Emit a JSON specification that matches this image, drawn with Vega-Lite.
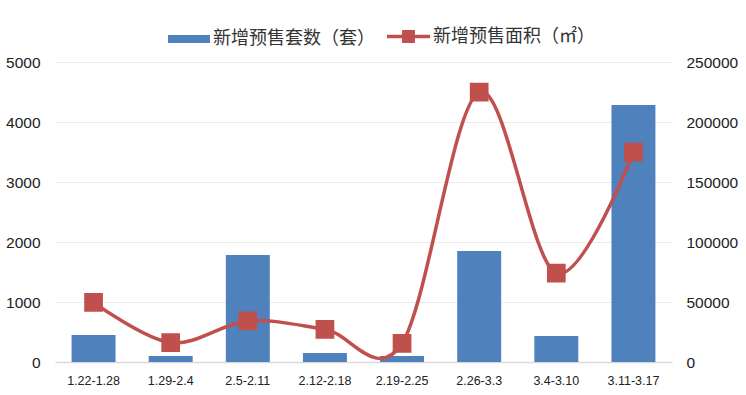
{
  "$schema": "https://vega.github.io/schema/vega-lite/v6.json",
  "width": 617,
  "height": 300,
  "autosize": "none",
  "padding": {"left": 55, "top": 62, "right": 74, "bottom": 33},
  "background": "#ffffff",
  "config": {"view": {"stroke": null}},
  "data": {"values": [
    {"week": "1.22-1.28", "units": 450, "area": 49700},
    {"week": "1.29-2.4", "units": 100, "area": 16100},
    {"week": "2.5-2.11", "units": 1783, "area": 34200},
    {"week": "2.12-2.18", "units": 150, "area": 27200},
    {"week": "2.19-2.25", "units": 100, "area": 15600},
    {"week": "2.26-3.3", "units": 1850, "area": 224800},
    {"week": "3.4-3.10", "units": 433, "area": 74000},
    {"week": "3.11-3.17", "units": 4283, "area": 174800}
  ]},
  "encoding": {
    "x": {
      "field": "week", "type": "ordinal", "sort": null,
      "scale": {"paddingInner": 0.43, "paddingOuter": 0.215},
      "axis": {"title": null, "labelAngle": 0, "ticks": false, "domainColor": "#d9d9d9", "domainWidth": 1.5,
        "labelFont": "Liberation Sans", "labelFontSize": 12.5, "labelColor": "#222", "labelPadding": 12, "grid": false}
    }
  },
  "layer": [
    {
      "mark": {"type": "bar", "color": "#4F81BD"},
      "encoding": {
        "y": {"field": "units", "type": "quantitative", "scale": {"domain": [0, 5000], "nice": false},
          "axis": {"title": null, "values": [0, 1000, 2000, 3000, 4000, 5000], "format": "d", "ticks": false, "domain": false,
            "grid": true, "gridColor": "#ebebeb", "labelFont": "Liberation Sans", "labelFontSize": 15.5,
            "labelColor": "#222", "labelPadding": 15}},
        "fill": {"datum": "新增预售套数（套）", "type": "nominal", "scale": {"range": ["#4F81BD"]},
          "legend": {"title": null, "orient": "none", "legendX": 113, "legendY": -44,
            "symbolType": "M-1,-0.19L1,-0.19L1,0.19L-1,0.19Z", "symbolSize": 1764, "symbolStrokeWidth": 0,
            "labelFont": "Noto Sans CJK SC", "labelFontSize": 18, "labelColor": "#333", "labelOffset": 3, "labelLimit": 400}}
      }
    },
    {
      "mark": {"type": "line", "interpolate": "cardinal", "color": "#C0504D", "strokeWidth": 3.5,
        "point": {"shape": "square", "size": 280, "filled": true, "color": "#C0504D", "opacity": 1}},
      "encoding": {
        "y": {"field": "area", "type": "quantitative", "scale": {"domain": [0, 250000], "nice": false},
          "axis": {"title": null, "orient": "right", "values": [0, 50000, 100000, 150000, 200000, 250000], "format": "d",
            "ticks": false, "domain": false, "grid": false, "labelFont": "Liberation Sans", "labelFontSize": 15.5,
            "labelColor": "#222", "labelPadding": 14}},
        "stroke": {"datum": "新增预售面积（㎡）", "type": "nominal", "scale": {"range": ["#C0504D"]},
          "legend": {"title": null, "orient": "none", "legendX": 332, "legendY": -47,
            "symbolType": "M-1,-0.08L1,-0.08L1,0.08L-1,0.08Z M-0.3,-0.3L0.3,-0.3L0.3,0.3L-0.3,0.3Z",
            "symbolSize": 1849, "symbolFillColor": "#C0504D", "symbolStrokeWidth": 0,
            "labelFont": "Noto Sans CJK SC", "labelFontSize": 18, "labelColor": "#333", "labelOffset": 3, "labelLimit": 400}}
      }
    }
  ],
  "resolve": {"scale": {"y": "independent", "fill": "independent", "stroke": "independent"}}
}
